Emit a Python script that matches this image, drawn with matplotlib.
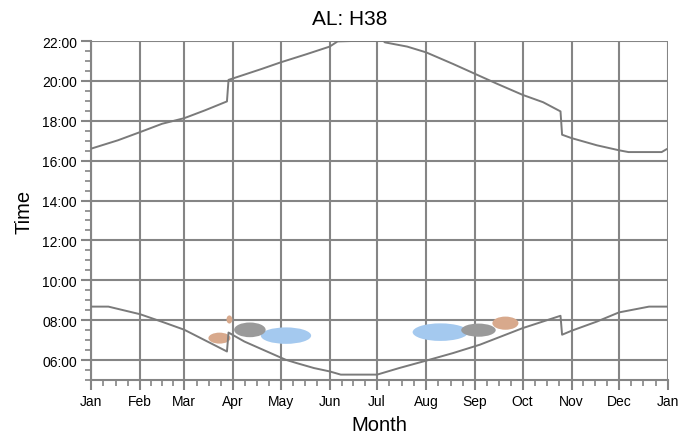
import matplotlib
matplotlib.use("Agg")
import matplotlib.pyplot as plt
from matplotlib.patches import Ellipse
from matplotlib.ticker import FixedLocator, FuncFormatter, MultipleLocator

plt.rcParams['font.family'] = ['Liberation Sans', 'DejaVu Sans']

# ---- data (day of year, hours) ----
month_labels = ["Jan", "Feb", "Mar", "Apr", "May", "Jun", "Jul", "Aug",
                "Sep", "Oct", "Nov", "Dec", "Jan"]
month_starts = [0, 31, 59, 90, 120, 151, 181, 212, 243, 273, 304, 334, 365]

sunset_day = [0, 17, 31, 45, 59, 72, 86, 87, 108, 120, 136, 151, 156, 165,
              185, 186, 200, 212, 229, 243, 257, 273, 286, 297, 298, 304, 320,
              334, 340, 361, 364]
sunset_time = [16.60, 17.02, 17.43, 17.85, 18.13, 18.52, 18.97, 20.05, 20.60,
               20.93, 21.33, 21.72, 21.98, 22.00, 22.00, 21.93, 21.72, 21.43,
               20.85, 20.35, 19.85, 19.30, 18.93, 18.47, 17.30, 17.13, 16.77,
               16.52, 16.43, 16.43, 16.57]

sunrise_day = [0, 11, 31, 46, 59, 86, 87, 97, 123, 130, 141, 151, 158, 181,
               195, 212, 229, 246, 273, 297, 298, 304, 320, 334, 353, 364]
sunrise_time = [8.68, 8.68, 8.30, 7.89, 7.52, 6.43, 7.38, 6.93, 6.02, 5.85,
                5.60, 5.43, 5.27, 5.27, 5.60, 5.97, 6.35, 6.77, 7.60, 8.22,
                7.27, 7.47, 7.93, 8.39, 8.68, 8.68]

# detection clusters: start/end day, low/high time
blob_start = [108.2, 204.3, 91.0, 234.7, 74.6, 85.8, 254.3]
blob_end = [138.5, 237.8, 110.0, 255.5, 87.9, 89.3, 270.0]
blob_low = [6.85, 7.00, 7.18, 7.20, 6.85, 7.85, 7.55]
blob_high = [7.60, 7.80, 7.85, 7.80, 7.35, 8.22, 8.15]
blob_kind = ["blue", "blue", "gray", "gray", "brown", "brown", "brown"]

kind_color = {"blue": "#a4c9ef", "gray": "#9a9a9a", "brown": "#d8a98c"}

fig = plt.figure(figsize=(6.99, 4.39), dpi=100)
ax = fig.add_axes([91/699, 1-381/439, (668-91)/699, (381-42)/439])

grid_c = "#858585"
line_c = "#7a7a7a"

ax.set_xlim(0, 365)
ax.set_ylim(5, 22)

for s, e, lo, hi, k in zip(blob_start, blob_end, blob_low, blob_high, blob_kind):
    ax.add_patch(Ellipse(((s+e)/2, (lo+hi)/2), (e-s)*1.05, (hi-lo)*1.1,
                         facecolor=kind_color[k], edgecolor='none', zorder=3))

ax.plot(sunset_day, sunset_time, color=line_c, lw=1.4, zorder=4)
ax.plot(sunrise_day, sunrise_time, color=line_c, lw=1.4, zorder=4)

ax.xaxis.set_major_locator(FixedLocator(month_starts))
ax.set_xticklabels(month_labels)
minor_x = []
for a, b in zip(month_starts[:-1], month_starts[1:]):
    for q in (0.25, 0.5, 0.75):
        minor_x.append(a + (b-a)*q)
ax.xaxis.set_minor_locator(FixedLocator(minor_x))

ax.yaxis.set_major_locator(FixedLocator([6, 8, 10, 12, 14, 16, 18, 20, 22]))
ax.yaxis.set_minor_locator(MultipleLocator(0.5))
ax.yaxis.set_major_formatter(FuncFormatter(lambda v, p: "%02d:00" % int(round(v))))

ax.grid(True, which='major', color=grid_c, lw=1.5, zorder=1)
ax.set_axisbelow(True)
for sp in ("top", "right"):
    ax.spines[sp].set_visible(False)
for sp in ("left", "bottom"):
    ax.spines[sp].set_color(grid_c)
    ax.spines[sp].set_linewidth(1.5)

ax.tick_params(which='major', length=7, width=1.5, color=grid_c,
               labelsize=10, pad=3)
ax.tick_params(which='minor', length=4, width=1.2, color=grid_c)

ax.set_xlabel("Month", fontsize=14.5, labelpad=5)
ax.set_ylabel("Time", fontsize=14.5, labelpad=6)
fig.suptitle("AL: H38", fontsize=15, x=0.5, y=0.977)

fig.savefig("out.png", dpi=100)
